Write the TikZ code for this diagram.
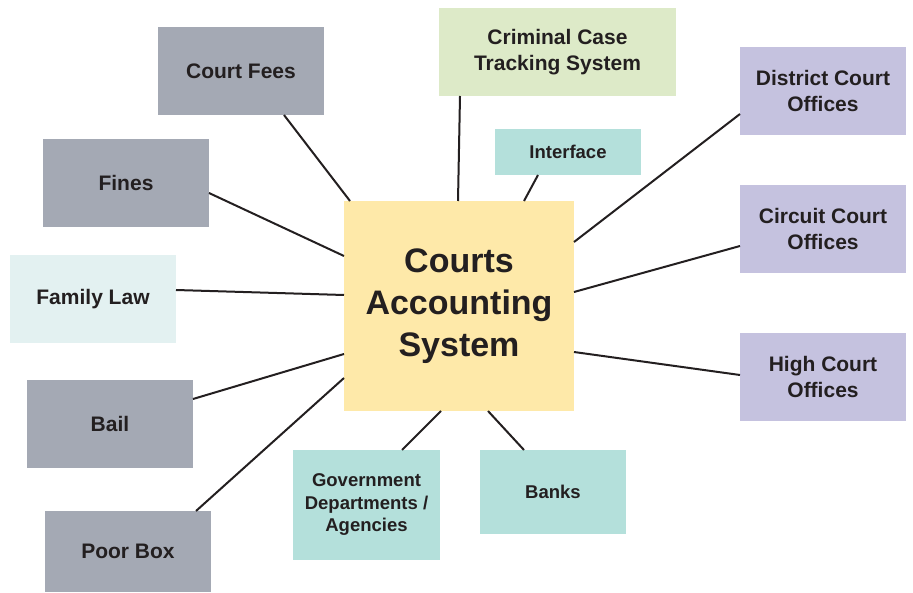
\documentclass[tikz,border=0pt]{standalone}
\usepackage{fontspec}
\setmainfont{Liberation Sans}
\begin{document}
\begin{tikzpicture}[x=1pt,y=-1pt,
  box/.style={rectangle, inner sep=0pt, outer sep=0pt, align=center,
    text=inkc, font=\bfseries\fontsize{21}{25.5}\selectfont},
  smallbox/.style={box, font=\bfseries\fontsize{18.5}{22.5}\selectfont},
  link/.style={draw=inkc, line width=2pt},
]
\definecolor{inkc}{HTML}{231F20}
\definecolor{grayc}{HTML}{A4A9B4}
\definecolor{greenc}{HTML}{DDEAC8}
\definecolor{lavc}{HTML}{C5C2DF}
\definecolor{tealc}{HTML}{B4E0DB}
\definecolor{paletealc}{HTML}{E3F1F1}
\definecolor{yellowc}{HTML}{FEE9A9}

\useasboundingbox (0,0) rectangle (913,593);

% central system
\node[box, fill=yellowc, minimum width=230pt, minimum height=210pt,
      font=\bfseries\fontsize{34}{42}\selectfont] (cas) at (459,306)
      {Courts\\Accounting\\System};

% surrounding boxes
\node[box, fill=grayc, minimum width=166pt, minimum height=88pt] (cf) at (241,71) {Court Fees};
\node[box, fill=greenc, minimum width=237pt, minimum height=88pt] (ccts) at (557.5,52) {Criminal Case\\Tracking System};
\node[smallbox, fill=tealc, minimum width=146pt, minimum height=46pt] (ifc) at (568,152) {Interface};
\node[box, fill=lavc, minimum width=166pt, minimum height=88pt] (dc) at (823,91) {District Court\\Offices};
\node[box, fill=grayc, minimum width=166pt, minimum height=88pt] (fin) at (126,183) {Fines};
\node[box, fill=lavc, minimum width=166pt, minimum height=88pt] (cc) at (823,229) {Circuit Court\\Offices};
\node[box, fill=paletealc, minimum width=166pt, minimum height=88pt] (fl) at (93,299) {Family Law};
\node[box, fill=lavc, minimum width=166pt, minimum height=88pt] (hc) at (823,377) {High Court\\Offices};
\node[box, fill=grayc, minimum width=166pt, minimum height=88pt] (bail) at (110,424) {Bail};
\node[box, fill=grayc, minimum width=166pt, minimum height=81pt] (pb) at (128,551.5) {Poor Box};
\node[smallbox, fill=tealc, minimum width=147pt, minimum height=110pt] (gov) at (366.5,505) {Government\\Departments /\\Agencies};
\node[smallbox, fill=tealc, minimum width=146pt, minimum height=84pt] (bank) at (553,492) {Banks};

% connectors
\draw[link] ([xshift=126pt]cf.south west) -- ([xshift=6pt]cas.north west);
\draw[link] ([xshift=21pt]ccts.south west) -- ([xshift=114pt]cas.north west);
\draw[link] ([xshift=43pt]ifc.south west) -- ([xshift=180pt]cas.north west);
\draw[link] ([yshift=-67pt]dc.north west) -- ([yshift=-41pt]cas.north east);
\draw[link] ([yshift=-54pt]fin.north east) -- ([yshift=-55pt]cas.north west);
\draw[link] ([yshift=-61pt]cc.north west) -- ([yshift=-91pt]cas.north east);
\draw[link] ([yshift=-35pt]fl.north east) -- ([yshift=-94pt]cas.north west);
\draw[link] ([yshift=-42pt]hc.north west) -- ([yshift=-151pt]cas.north east);
\draw[link] ([yshift=-19pt]bail.north east) -- ([yshift=-153pt]cas.north west);
\draw[link] ([xshift=151pt]pb.north west) -- ([yshift=-177pt]cas.north west);
\draw[link] ([xshift=109pt]gov.north west) -- ([xshift=97pt]cas.south west);
\draw[link] ([xshift=44pt]bank.north west) -- ([xshift=144pt]cas.south west);
\end{tikzpicture}
\end{document}
